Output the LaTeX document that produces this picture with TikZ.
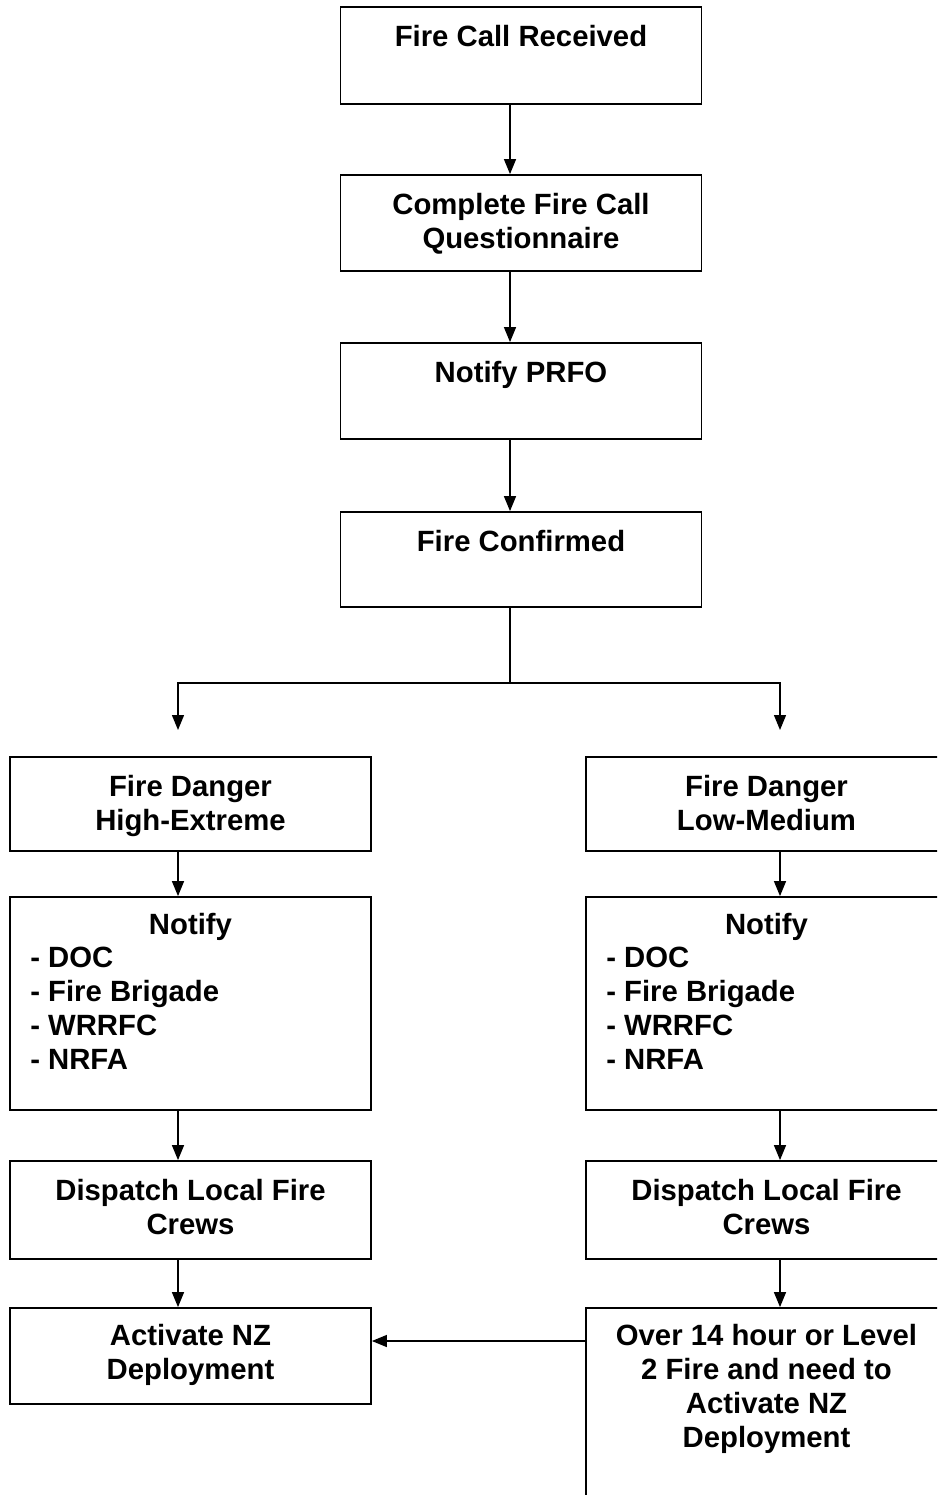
\documentclass[tikz,border=0pt]{standalone}
\usepackage{fontspec}
\setmainfont{Liberation Sans}
\usetikzlibrary{positioning,arrows.meta}

\tikzset{
	stage/.style={draw, line width=1.8pt, minimum width=361pt, minimum height=96pt, inner sep=0pt},
	caption/.style={font=\fontsize{29.3}{34}\selectfont\bfseries, align=center, inner sep=0pt},
	flow/.style={line width=1.4pt, -{Triangle[length=15pt,width=12pt]}},
}

\begin{document}
\begin{tikzpicture}[x=1pt,y=-1pt]
	\useasboundingbox (0,0) rectangle (937,1495);
	\clip (0,0) rectangle (937,1495);
	
	% x of the connectors
	\coordinate (spine) at (510,0);
	\coordinate (lane1) at (178,0);
	\coordinate (lane2) at (780,0);
	\coordinate (split) at (510,683);
	\coordinate (cross) at (0,1341);
	
	% centre column
	\node[stage, minimum height=97pt] (received) at (521,55.5) {};
	\node[caption, below=19pt of received.north] (receivedtxt) {Fire Call Received};
	\node[stage] (questionnaire) at (521,223) {};
	\node[caption, below=19pt of questionnaire.north] (questionnairetxt) {Complete Fire Call\\Questionnaire};
	\node[stage] (prfo) at (521,391) {};
	\node[caption, below=19pt of prfo.north] (prfotxt) {Notify PRFO};
	\node[stage, minimum height=95pt] (confirmed) at (521,559.5) {};
	\node[caption, below=19pt of confirmed.north] (confirmedtxt) {Fire Confirmed};
	
	% high - extreme
	\node[stage, minimum height=94pt] (high) at (190.5,804) {};
	\node[caption, below=19pt of high.north] (hightxt) {Fire Danger\\High-Extreme};
	\node[stage, minimum height=213pt] (notifyhigh) at (190.5,1003.5) {};
	\node[caption, below=17pt of notifyhigh.north] (notifyhightxt) {Notify};
	\node[caption, align=left, anchor=north west] (listhigh) at ([xshift=21pt,yshift=-51pt]notifyhigh.north west) {- DOC\\- Fire Brigade\\- WRRFC\\- NRFA};
	\node[stage, minimum height=98pt] (dispatchhigh) at (190.5,1210) {};
	\node[caption, below=19pt of dispatchhigh.north] (dispatchhightxt) {Dispatch Local Fire\\Crews};
	\node[stage] (activate) at (190.5,1356) {};
	\node[caption, below=17pt of activate.north] (activatetxt) {Activate NZ\\Deployment};
	
	% low - medium
	\node[stage, minimum height=94pt] (low) at (766.5,804) {};
	\node[caption, below=19pt of low.north] (lowtxt) {Fire Danger\\Low-Medium};
	\node[stage, minimum height=213pt] (notifylow) at (766.5,1003.5) {};
	\node[caption, below=17pt of notifylow.north] (notifylowtxt) {Notify};
	\node[caption, align=left, anchor=north west] (listlow) at ([xshift=21pt,yshift=-51pt]notifylow.north west) {- DOC\\- Fire Brigade\\- WRRFC\\- NRFA};
	\node[stage, minimum height=98pt] (dispatchlow) at (766.5,1210) {};
	\node[caption, below=19pt of dispatchlow.north] (dispatchlowtxt) {Dispatch Local Fire\\Crews};
	\node[stage, minimum height=222pt] (over) at (766.5,1419) {};
	\node[caption, below=17pt of over.north] (overtxt) {Over 14 hour or Level\\2 Fire and need to\\Activate NZ\\Deployment};
	
	% connectors
	\draw[flow] (received.south -| spine) -- (questionnaire.north -| spine);
	\draw[flow] (questionnaire.south -| spine) -- (prfo.north -| spine);
	\draw[flow] (prfo.south -| spine) -- (confirmed.north -| spine);
	\draw[line width=1.4pt] (confirmed.south -| spine) -- (split);
	\draw[flow] (split) -| ([yshift=-47pt]split -| lane1);
	\draw[flow] (split) -| ([yshift=-47pt]split -| lane2);
	
	\draw[flow] (high.south -| lane1) -- (notifyhigh.north -| lane1);
	\draw[flow] (notifyhigh.south -| lane1) -- (dispatchhigh.north -| lane1);
	\draw[flow] (dispatchhigh.south -| lane1) -- (activate.north -| lane1);
	
	\draw[flow] (low.south -| lane2) -- (notifylow.north -| lane2);
	\draw[flow] (notifylow.south -| lane2) -- (dispatchlow.north -| lane2);
	\draw[flow] (dispatchlow.south -| lane2) -- (over.north -| lane2);
	
	\draw[flow] (over.west |- cross) -- (activate.east |- cross);
\end{tikzpicture}
\end{document}
